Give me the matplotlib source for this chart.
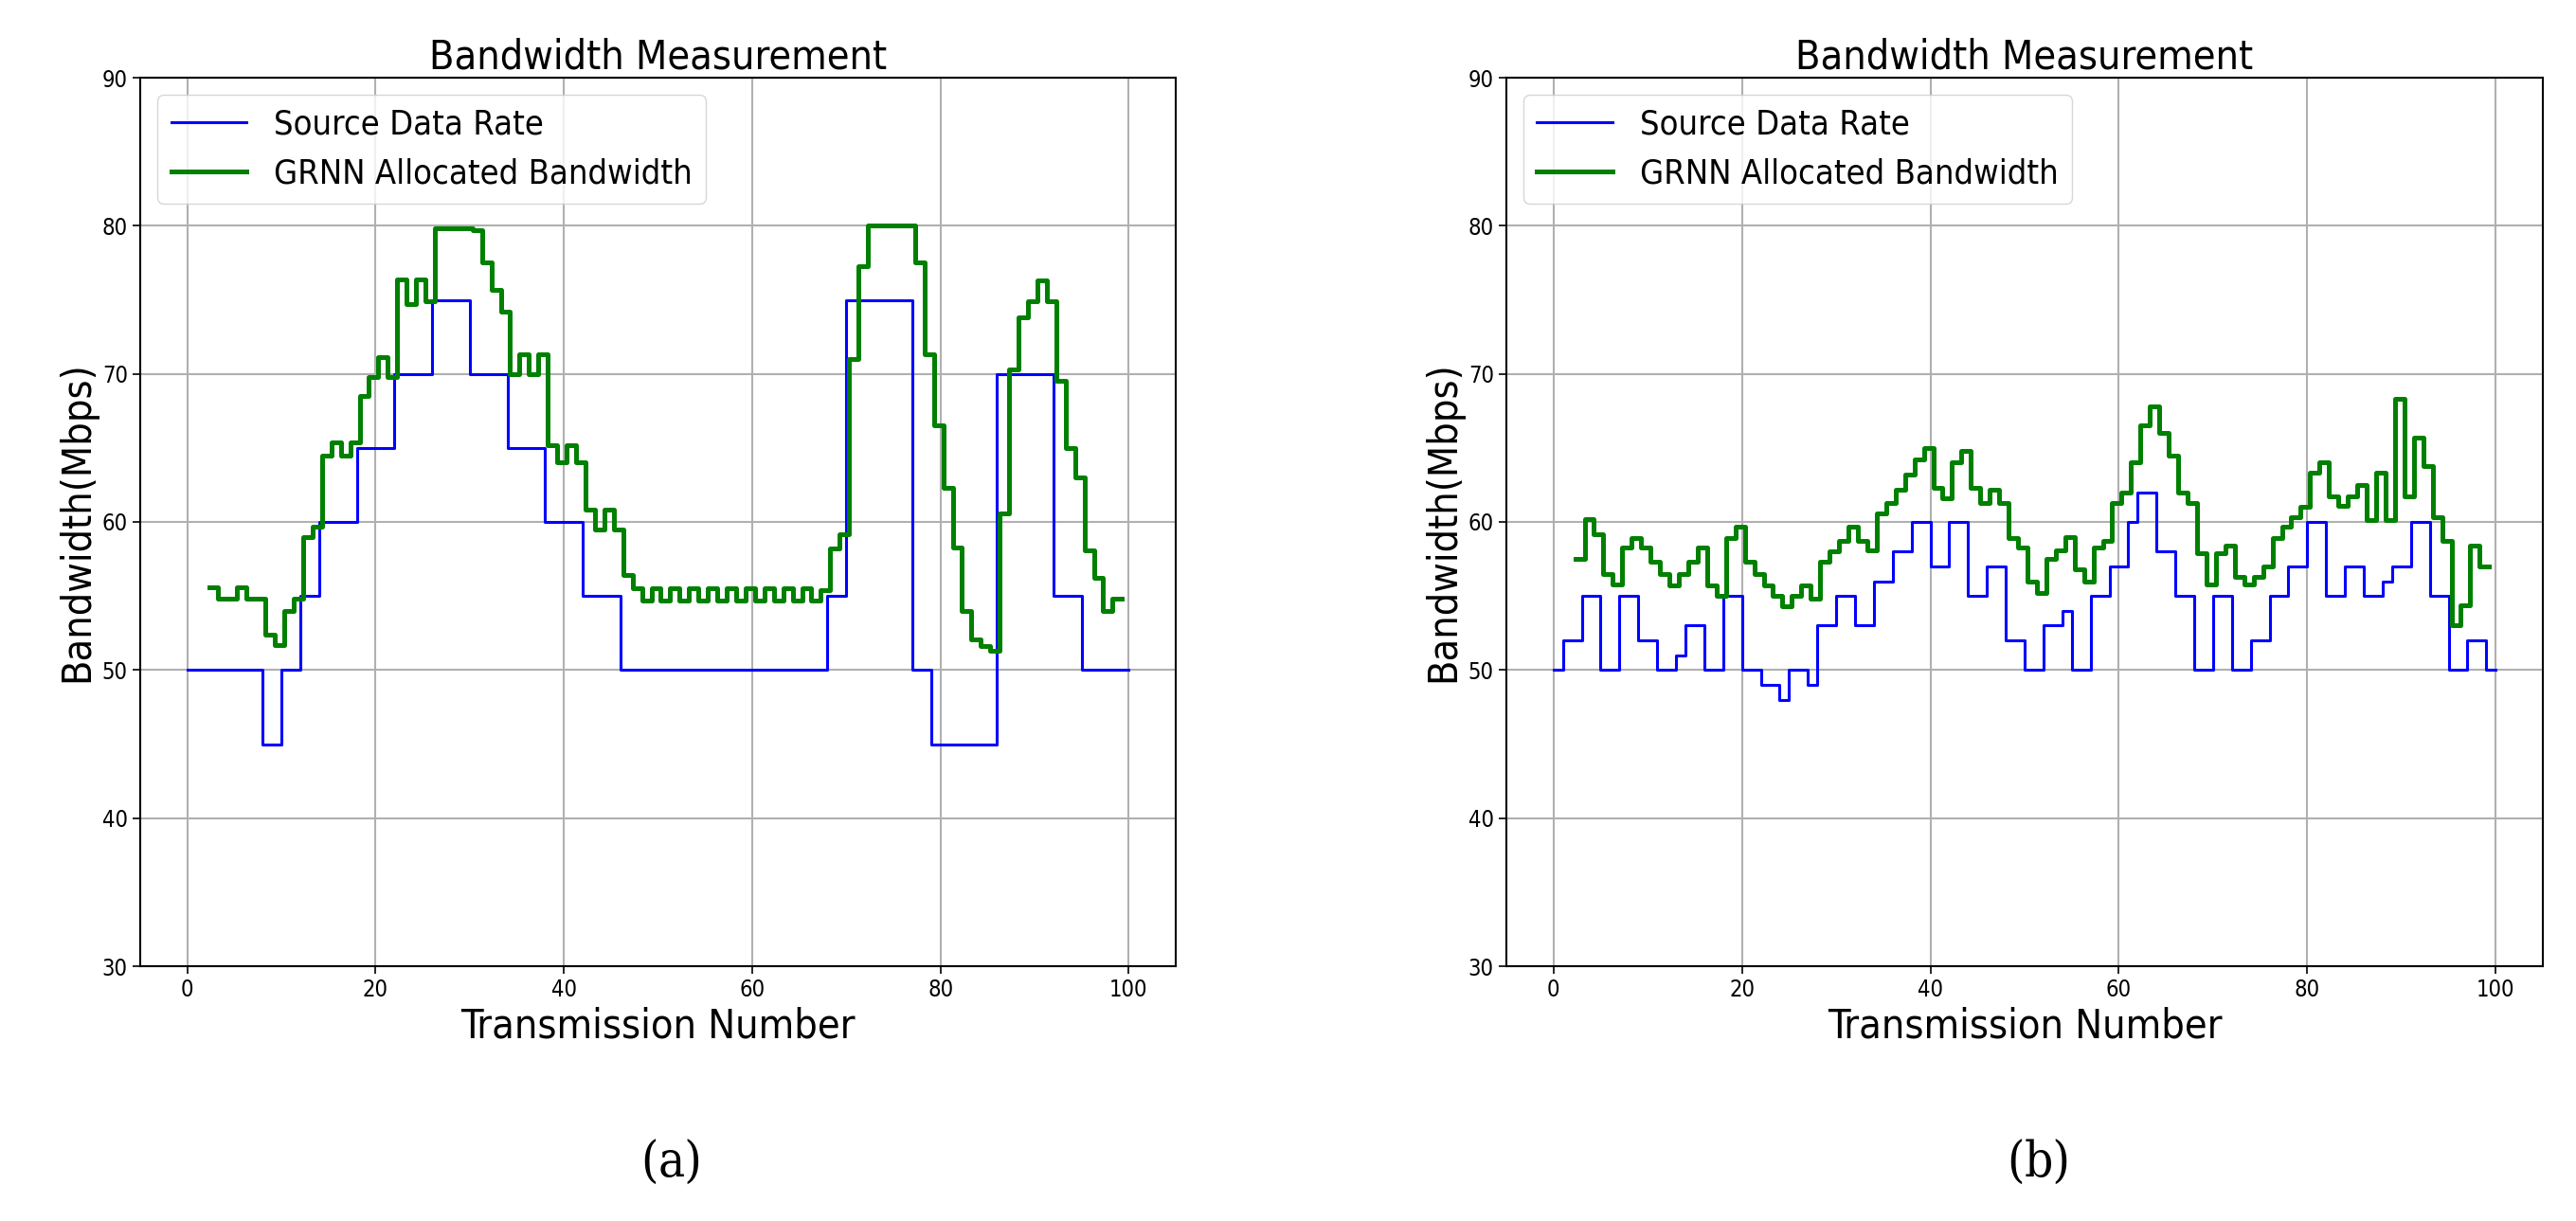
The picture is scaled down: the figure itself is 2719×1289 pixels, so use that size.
import numpy as np
import matplotlib
matplotlib.use("Agg")
import matplotlib.pyplot as plt

plt.rcParams['font.stretch'] = 'condensed'

# source data rate, integer transmissions 0..100 (steps-post)
src_a = ([50] * 8 + [45] * 2 + [50] * 2 + [55] * 2 + [60] * 4 + [65] * 4 + [70] * 4 +
         [75] * 4 + [70] * 4 + [65] * 4 + [60] * 4 + [55] * 4 + [50] * 22 + [55] * 2 +
         [75] * 7 + [50] * 2 + [45] * 7 + [70] * 6 + [55] * 3 + [50] * 6)
src_b = ([50, 52, 52, 55, 55, 50, 50, 55, 55, 52, 52, 50, 50, 51, 53, 53, 50, 50, 55, 55,
          50, 50, 49, 49, 48, 50, 50, 49, 53, 53, 55, 55, 53, 53, 56, 56, 58, 58, 60, 60,
          57, 57, 60, 60, 55, 55, 57, 57, 52, 52, 50, 50, 53, 53, 54, 50, 50, 55, 55, 57,
          57, 60, 62, 62, 58, 58, 55, 55, 50, 50, 55, 55, 50, 50, 52, 52, 55, 55, 57, 57,
          60, 60, 55, 55, 57, 57, 55, 55, 56, 57, 57, 60, 60, 55, 55, 50, 50, 52, 52, 50, 50])

# GRNN allocated bandwidth, starting at transmission ~2.3
grnn_a = [55.6, 54.8, 54.8, 55.6, 54.8, 54.8, 52.4, 51.7, 54.0, 54.8,
          59.0, 59.7, 64.5, 65.4, 64.5, 65.4, 68.5, 69.8, 71.1, 69.8,
          76.4, 74.7, 76.4, 74.9, 79.8, 79.8, 79.8, 79.8, 79.7, 77.5,
          75.7, 74.2, 70.0, 71.3, 70.0, 71.3, 65.2, 64.0, 65.2, 64.0,
          60.8, 59.5, 60.8, 59.5, 56.4, 55.5, 54.7, 55.5, 54.7, 55.5,
          54.7, 55.5, 54.7, 55.5, 54.7, 55.5, 54.7, 55.5, 54.7, 55.5,
          54.7, 55.5, 54.7, 55.5, 54.7, 55.4, 58.2, 59.2, 71.0, 77.3,
          80.0, 80.0, 80.0, 80.0, 80.0, 77.5, 71.3, 66.5, 62.3, 58.3,
          54.0, 52.1, 51.6, 51.3, 60.6, 70.3, 73.8, 74.9, 76.3, 74.9,
          69.5, 65.0, 63.0, 58.1, 56.2, 54.0, 54.8, 54.8]
grnn_b = [57.5, 60.2, 59.2, 56.5, 55.8, 58.3, 58.9, 58.3, 57.3, 56.5,
          55.7, 56.5, 57.3, 58.3, 55.7, 55.0, 58.9, 59.7, 57.3, 56.5,
          55.7, 55.0, 54.3, 55.0, 55.7, 54.8, 57.3, 58.0, 58.7, 59.7,
          58.7, 58.1, 60.6, 61.3, 62.2, 63.2, 64.2, 65.0, 62.3, 61.6,
          64.0, 64.8, 62.3, 61.3, 62.2, 61.3, 58.9, 58.3, 56.0, 55.2,
          57.5, 58.1, 59.0, 56.8, 56.0, 58.3, 58.7, 61.3, 62.0, 64.0,
          66.5, 67.8, 66.0, 64.5, 62.0, 61.3, 57.9, 55.8, 57.9, 58.4,
          56.3, 55.8, 56.3, 57.0, 58.9, 59.7, 60.3, 61.0, 63.3, 64.0,
          61.7, 61.1, 61.7, 62.5, 60.1, 63.3, 60.1, 68.3, 61.7, 65.7,
          63.8, 60.3, 58.7, 53.0, 54.4, 58.4, 57.0, 57.0]

x_src = np.arange(101)
x_grnn = 2.3 + np.arange(len(grnn_a))

fig = plt.figure(figsize=(27.19, 12.89), dpi=100)
ax_a = fig.add_axes([148 / 2719, 1 - 1020 / 1289, 1093 / 2719, 938 / 1289])
ax_b = fig.add_axes([1590 / 2719, 1 - 1020 / 1289, 1094 / 2719, 938 / 1289])

for ax, src, grnn, tag in [(ax_a, src_a, grnn_a, "a"), (ax_b, src_b, grnn_b, "b")]:
    ax.plot(x_src, src, drawstyle="steps-post", color="blue", lw=2.2, label="Source Data Rate")
    ax.plot(x_grnn, grnn, drawstyle="steps-post", color="green", lw=3.6,
            label="GRNN Allocated Bandwidth")
    ax.set_xlim(-5, 105)
    ax.set_ylim(30, 90)
    ax.grid(True, color="#b0b0b0", lw=1.5)
    ax.set_title("Bandwidth Measurement", fontsize=31)
    ax.set_xlabel("Transmission Number", fontsize=31)
    ax.set_ylabel("Bandwidth(Mbps)", fontsize=31)
    ax.tick_params(labelsize=17, length=6, width=1.2)
    for s in ax.spines.values():
        s.set_linewidth(1.5)
    ax.legend(loc="upper left", fontsize=26, handlelength=2.2)
    ax.text(0.5, -0.195, "(", transform=ax.transAxes, ha="right", va="top",
            fontsize=38, family="DejaVu Serif")
    ax.text(0.5, -0.195, tag + ")", transform=ax.transAxes, ha="left", va="top",
            fontsize=38, family="DejaVu Serif")

fig.savefig("out.png", dpi=100)
